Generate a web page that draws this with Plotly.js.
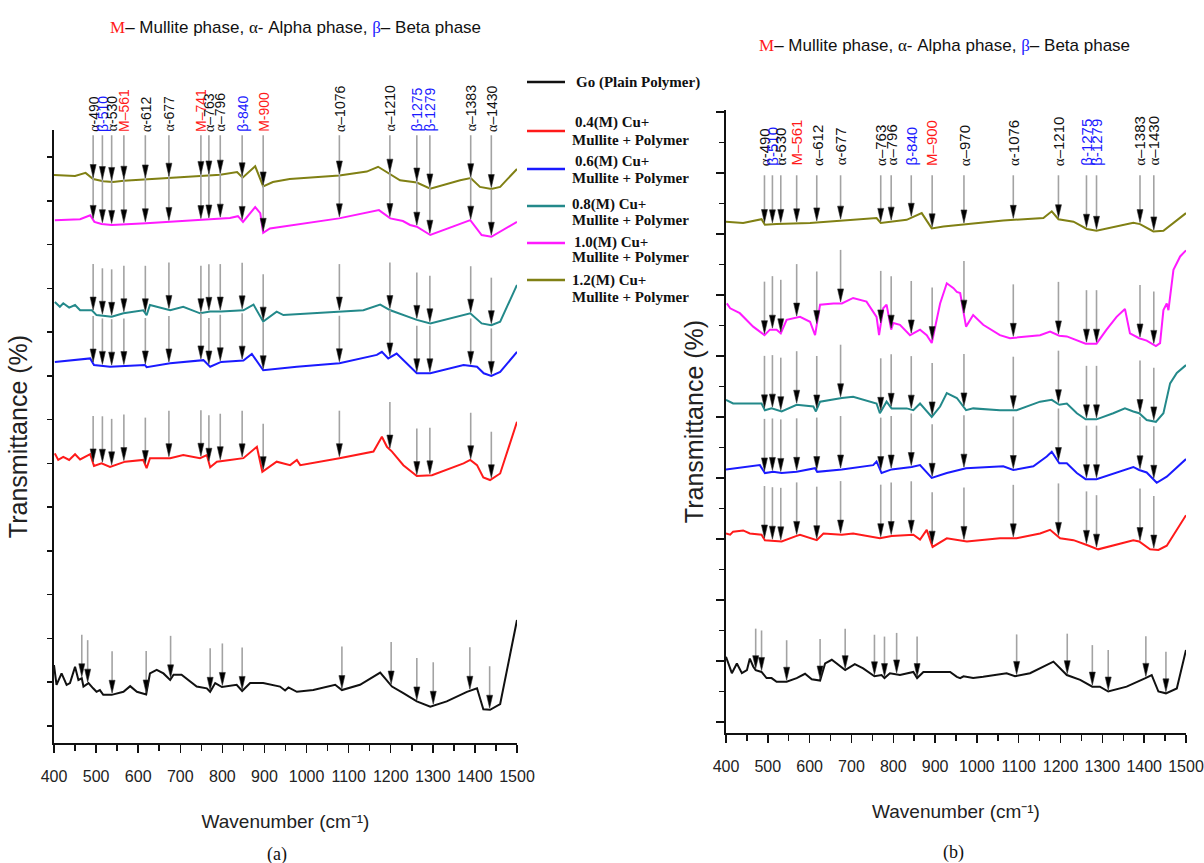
<!DOCTYPE html>
<html>
<head>
<meta charset="utf-8">
<script src="https://cdn.plot.ly/plotly-3.0.1.min.js"></script>
<style>html,body{margin:0;padding:0;background:#fff;}#chart{width:1204px;height:863px;}</style>
</head>
<body>
<div id="chart"></div>
<script>
// ---------------- DATA ----------------
// Panel (a) spectra: wavenumber (cm-1) and offset transmittance (arbitrary units)
const aBlackX = [400,406,418,430,438,450,458,466,470,482,493,501,509,517,537,565,581,597,619,628,644,660,676,684,703,723,739,763,771,783,799,834,847,866,897,937,949,957,977,1016,1068,1084,1127,1175,1203,1230,1262,1294,1333,1381,1405,1420,1436,1460,1500];
const aBlackY = [1.39,0.94,1.20,0.94,0.98,1.35,1.05,1.09,0.90,0.98,0.86,0.78,0.82,0.71,0.71,0.78,0.91,0.78,0.72,1.20,1.28,1.20,1.05,1.17,1.17,1.01,0.90,0.86,0.78,0.98,0.89,0.94,0.80,0.98,0.98,0.90,0.81,0.88,0.78,0.82,0.94,0.82,0.94,1.22,0.90,0.75,0.56,0.44,0.56,0.78,0.86,0.38,0.37,0.50,2.42];
const aRedX = [402,410,422,436,450,462,486,495,513,533,569,612,620,628,676,707,747,763,771,787,818,850,882,895,929,961,977,985,1078,1135,1159,1179,1191,1203,1230,1262,1298,1373,1389,1405,1420,1436,1460,1500];
const aRedY = [6.23,6.08,6.15,6.08,6.21,6.09,6.21,5.94,6.00,5.92,6.04,6.08,5.89,6.12,6.12,6.19,6.12,6.19,5.91,6.04,6.08,6.12,6.38,5.81,6.04,5.96,6.08,5.96,6.12,6.23,6.27,6.61,6.38,6.27,5.96,5.71,5.73,6.00,6.08,5.96,5.68,5.62,5.77,6.95];
const aBlueX = [402,486,495,533,616,620,676,755,771,797,850,870,897,977,1078,1167,1179,1194,1214,1262,1294,1373,1405,1421,1439,1460,1500];
const aBlueY = [8.32,8.40,8.25,8.21,8.25,8.20,8.29,8.36,8.21,8.32,8.35,8.50,8.13,8.21,8.29,8.48,8.55,8.40,8.51,8.06,8.06,8.25,8.21,8.06,8.00,8.09,8.55];
const aTealX = [402,414,422,436,450,462,490,501,537,565,612,620,628,676,707,747,771,797,850,874,897,929,945,1078,1135,1175,1199,1262,1294,1389,1416,1439,1460,1500];
const aTealY = [9.69,9.58,9.66,9.56,9.62,9.50,9.50,9.39,9.35,9.43,9.50,9.39,9.62,9.50,9.58,9.43,9.47,9.47,9.50,9.63,9.24,9.47,9.39,9.47,9.50,9.63,9.50,9.28,9.20,9.43,9.20,9.16,9.24,10.08];
const aMagX = [402,462,486,496,513,537,619,676,747,818,837,849,878,890,897,913,1077,1172,1199,1229,1246,1262,1294,1389,1416,1439,1500];
const aMagY = [11.56,11.58,11.67,11.52,11.47,11.45,11.49,11.52,11.56,11.61,11.65,11.52,11.86,11.72,11.27,11.37,11.60,11.79,11.60,11.54,11.45,11.41,11.22,11.56,11.22,11.18,11.52];
const aOliveX = [400,450,475,493,517,540,566,617,673,749,795,835,848,878,897,920,960,1078,1143,1170,1200,1222,1262,1294,1365,1390,1412,1439,1460,1500];
const aOliveY = [12.59,12.57,12.64,12.50,12.45,12.43,12.46,12.49,12.53,12.57,12.60,12.66,12.53,12.79,12.33,12.43,12.50,12.58,12.67,12.78,12.61,12.47,12.42,12.28,12.47,12.52,12.32,12.27,12.32,12.73];

// Panel (b) spectra
const bBlackX = [400,414,426,438,450,457,465,471,485,497,509,521,545,569,589,605,625,637,653,665,685,708,728,755,772,779,792,816,848,857,872,936,952,960,968,991,1015,1071,1091,1127,1183,1215,1247,1276,1294,1314,1358,1403,1418,1434,1452,1478,1500];
const bBlackY = [1.07,0.80,0.96,0.80,0.85,1.04,0.91,0.85,0.82,0.72,0.72,0.66,0.66,0.72,0.79,0.70,0.68,0.96,1.02,0.96,0.85,0.95,0.88,0.75,0.77,0.72,0.80,0.77,0.82,0.72,0.82,0.82,0.74,0.72,0.75,0.72,0.74,0.80,0.75,0.80,0.99,0.77,0.69,0.58,0.58,0.50,0.58,0.72,0.77,0.50,0.47,0.55,1.18];
const bRedX = [400,410,417,441,457,485,493,533,569,577,617,633,677,704,768,796,848,864,880,894,928,976,1055,1095,1151,1175,1199,1231,1263,1290,1374,1388,1414,1434,1454,1500];
const bRedY = [3.09,3.07,3.12,3.14,3.09,3.07,2.98,2.96,3.05,3.07,2.98,3.09,3.07,3.09,3.01,3.05,3.07,2.99,3.15,2.87,3.01,2.96,3.01,3.01,3.09,3.15,3.01,2.98,2.90,2.83,2.98,2.96,2.83,2.82,2.89,3.39];
const bBlueX = [400,481,493,513,533,569,613,618,677,752,760,772,796,844,864,892,928,974,1063,1087,1135,1167,1179,1197,1215,1239,1260,1286,1374,1388,1406,1430,1454,1500];
const bBlueY = [4.14,4.21,4.08,4.10,4.08,4.10,4.16,4.10,4.14,4.21,4.27,4.08,4.14,4.18,4.21,4.00,4.08,4.16,4.19,4.13,4.19,4.35,4.43,4.24,4.24,4.08,3.98,3.98,4.18,4.13,4.09,3.92,4.02,4.31];
const bTealX = [400,417,485,493,509,533,569,609,615,625,677,704,760,768,784,796,832,848,864,892,912,928,952,974,991,1055,1095,1151,1179,1197,1215,1239,1260,1286,1326,1354,1374,1388,1406,1428,1446,1462,1478,1500];
const bTealY = [5.28,5.22,5.22,5.11,5.14,5.09,5.20,5.17,5.09,5.25,5.31,5.33,5.22,5.06,5.25,5.14,5.14,5.11,5.22,5.00,5.17,5.39,5.31,5.11,5.14,5.11,5.11,5.25,5.28,5.20,5.22,5.06,4.96,4.96,5.06,5.14,5.09,5.06,4.95,4.92,5.06,5.55,5.72,5.85];
const bMagX = [402,410,433,465,492,505,521,531,545,577,601,613,625,657,677,704,736,760,766,776,784,795,800,816,840,864,880,892,912,928,944,952,960,974,991,1015,1055,1079,1151,1175,1197,1215,1260,1286,1310,1334,1354,1366,1388,1406,1428,1438,1446,1454,1458,1470,1486,1500];
const bMagY = [6.86,6.78,6.70,6.48,6.34,6.43,6.43,6.37,6.59,6.64,6.56,6.34,6.84,6.86,6.86,6.95,6.89,6.64,6.34,6.78,6.84,6.43,6.54,6.51,6.34,6.43,6.34,6.21,6.86,7.19,7.11,7.05,7.03,6.48,6.67,6.51,6.34,6.29,6.34,6.40,6.33,6.32,6.20,6.20,6.43,6.64,6.77,6.37,6.29,6.25,6.16,6.21,6.75,6.86,6.75,7.41,7.63,7.73];
const bOliveX = [400,441,485,493,521,601,760,770,832,868,892,920,1063,1159,1179,1195,1231,1263,1286,1374,1390,1422,1446,1500];
const bOliveY = [8.20,8.18,8.24,8.15,8.16,8.18,8.26,8.18,8.23,8.34,8.09,8.12,8.22,8.26,8.37,8.24,8.20,8.08,8.05,8.18,8.16,8.04,8.05,8.34];

// Series names (legend)
const seriesNames = ['Go (Plain Polymer)', '0.4(M) Cu+ Mullite + Polymer', '0.6(M) Cu+ Mullite + Polymer',
                     '0.8(M) Cu+ Mullite + Polymer', '1.0(M) Cu+ Mullite + Polymer', '1.2(M) Cu+ Mullite + Polymer'];
const legendLine1 = ['Go (Plain Polymer)', '0.4(M) Cu+', '0.6(M) Cu+', '0.8(M) Cu+', '1.0(M) Cu+', '1.2(M) Cu+'];
const legendLine2 = ['', 'Mullite + Polymer', 'Mullite + Polymer', 'Mullite + Polymer', 'Mullite + Polymer', 'Mullite + Polymer'];

// Peak assignments (arrow positions, cm-1) and labels
const peaksA = [493,515,537,566,617,673,749,768,795,847,897,1078,1198,1262,1293,1390,1439];
const peakLabelsA = ['α-490','β-510','α-530','M–561','α-612','α-677','M–741','α–763','α–796','β-840','M-900','α–1076','α–1210','β-1275','β-1279','α–1383','α–1430'];
const peaksABlack = [466,480,538,619,677,771,800,847,1084,1201,1262,1301,1388,1435];
const peaksB = [492,511,531,569,617,674,770,795,843,893,969,1087,1195,1262,1286,1390,1423];
const peakLabelsB = ['α-490','β-510','α-530','M–561','α–612','α-677','α–763','α–796','β-840','M–900','α–970','α-1076','α–1210','β-1275','β-1279','α–1383','α–1430'];
const peaksBBlack = [471,485,545,625,685,755,779,808,857,1095,1216,1276,1314,1404,1452];

const xTickVals = [400,500,600,700,800,900,1000,1100,1200,1300,1400,1500];

// ---------------- STYLE / LAYOUT ----------------
const W = 1204, H = 863;
const px = v => v / W;
const py = v => 1 - v / H;
const SANS = '"Liberation Sans", Arial, sans-serif';
const SERIF = '"Liberation Serif", "Times New Roman", serif';
const colors = ['#111111', '#ff1a1a', '#1a1aff', '#23898a', '#ff1aff', '#808014'];

const panelA = {xa: 'x', ya: 'y', unitPx: 43.77, xPerPx: 1100 / 463, labelY: 13.56, topLine: 13.5, len: 46, blackLen: 42, labelSize: 14};
const panelB = {xa: 'x2', ya: 'y2', unitPx: 61, xPerPx: 1100 / 460, labelY: 9.1, topLine: 8.96, len: 52, blackLen: 40, labelSize: 15};

const curvesA = [[aBlackX, aBlackY], [aRedX, aRedY], [aBlueX, aBlueY], [aTealX, aTealY], [aMagX, aMagY], [aOliveX, aOliveY]];
const curvesB = [[bBlackX, bBlackY], [bRedX, bRedY], [bBlueX, bBlueY], [bTealX, bTealY], [bMagX, bMagY], [bOliveX, bOliveY]];

function interp(xs, ys, x) {
  for (let i = 0; i < xs.length - 1; i++) {
    if (x >= xs[i] && x <= xs[i + 1]) {
      const t = (x - xs[i]) / (xs[i + 1] - xs[i]);
      return ys[i] + t * (ys[i + 1] - ys[i]);
    }
  }
  return ys[ys.length - 1];
}

const traces = [];
function buildPanel(curves, panel, peaks, peaksBlack) {
  curves.forEach((c, i) => {
    traces.push({
      type: 'scatter', mode: 'lines', x: c[0], y: c[1], name: seriesNames[i],
      xaxis: panel.xa, yaxis: panel.ya, showlegend: false,
      line: {color: colors[i], width: 2}, hoverinfo: 'x+y+name'
    });
  });
  const lx = [], ly = [], hx = [], hy = [];
  curves.forEach((c, i) => {
    const list = i === 0 ? peaksBlack : peaks;
    list.forEach(x => {
      const tip = interp(c[0], c[1], x) + 1.5 / panel.unitPx;
      const base = tip + 13 / panel.unitPx;
      const len = i === 0 ? panel.blackLen : panel.len;
      const top = (i === curves.length - 1) ? panel.topLine : tip + len / panel.unitPx;
      const hw = 3 * panel.xPerPx;
      lx.push(x, x, null); ly.push(tip + 4 / panel.unitPx, top, null);
      hx.push(x - hw, x + hw, x, x - hw, null); hy.push(base, base, tip, base, null);
    });
  });
  traces.push({type: 'scatter', mode: 'lines', x: lx, y: ly, xaxis: panel.xa, yaxis: panel.ya,
    showlegend: false, hoverinfo: 'skip', line: {color: '#a3a3a3', width: 1.6}});
  traces.push({type: 'scatter', mode: 'lines', x: hx, y: hy, xaxis: panel.xa, yaxis: panel.ya,
    showlegend: false, hoverinfo: 'skip', fill: 'toself', fillcolor: '#000', line: {color: '#333', width: 0.6}});
}
buildPanel(curvesA, panelA, peaksA, peaksABlack);
buildPanel(curvesB, panelB, peaksB, peaksBBlack);

const annotations = [];
function labelColor(t) { return t[0] === 'M' ? '#ff1a1a' : (t[0] === 'β' ? '#1a1aff' : '#111'); }
function labelText(t) {
  if (t[0] === 'α') return '<span style="font-family:Liberation Serif">α</span>' + t.slice(1);
  return t;
}
function addLabels(peaks, labels, panel) {
  peaks.forEach((x, i) => {
    annotations.push({
      x: x, y: panel.labelY, xref: panel.xa, yref: panel.ya, text: labelText(labels[i]),
      textangle: -90, xanchor: 'center', yanchor: 'bottom', showarrow: false, borderpad: 0,
      font: {family: SANS, size: panel.labelSize, color: labelColor(labels[i])}
    });
  });
}
addLabels(peaksA, peakLabelsA, panelA);
addLabels(peaksB, peakLabelsB, panelB);

// panel titles
const phaseTitle = '<span style="color:#ff1a1a;font-family:Liberation Serif">M</span>– Mullite phase, ' +
  '<span style="font-family:Liberation Serif">α</span>- Alpha phase, ' +
  '<span style="color:#1a1aff;font-family:Liberation Serif">β</span>– Beta phase';
annotations.push({x: px(295), y: py(28), xref: 'paper', yref: 'paper', text: phaseTitle, showarrow: false,
  xanchor: 'center', yanchor: 'middle', font: {family: SANS, size: 17, color: '#111'}});
annotations.push({x: px(945), y: py(46), xref: 'paper', yref: 'paper', text: phaseTitle, showarrow: false,
  xanchor: 'center', yanchor: 'middle', font: {family: SANS, size: 17, color: '#111'}});
// captions
annotations.push({x: px(277), y: py(854), xref: 'paper', yref: 'paper', text: '(a)', showarrow: false,
  xanchor: 'center', yanchor: 'middle', font: {family: SERIF, size: 18, color: '#111'}});
annotations.push({x: px(953), y: py(852), xref: 'paper', yref: 'paper', text: '(b)', showarrow: false,
  xanchor: 'center', yanchor: 'middle', font: {family: SERIF, size: 18, color: '#111'}});

// manual legend
const legLineY = [82, 131, 169, 206, 243, 280];
const legText1Y = [82, 123, 162, 204, 242, 280];
const legText2Y = [0, 140, 178, 220, 257, 297];
const legTextX = [574, 573, 573, 570, 572, 570];
const shapes = [];
colors.forEach((c, i) => {
  shapes.push({type: 'line', xref: 'paper', yref: 'paper', x0: px(527), x1: px(565), y0: py(legLineY[i]), y1: py(legLineY[i]),
    line: {color: c, width: 2.5}});
  annotations.push({x: px(legTextX[i]), y: py(legText1Y[i]), xref: 'paper', yref: 'paper', text: '<b>' + legendLine1[i] + '</b>',
    showarrow: false, xanchor: 'left', yanchor: 'middle', font: {family: SERIF, size: 15, color: '#111'}});
  if (legendLine2[i]) {
    annotations.push({x: px(570), y: py(legText2Y[i]), xref: 'paper', yref: 'paper', text: '<b>' + legendLine2[i] + '</b>',
      showarrow: false, xanchor: 'left', yanchor: 'middle', font: {family: SERIF, size: 15, color: '#111'}});
  }
});

function xAxis(domain, anchor) {
  return {
    domain: domain, range: [400, 1500], anchor: anchor, showgrid: false, zeroline: false,
    showline: true, linecolor: '#111', linewidth: 2, mirror: false,
    ticks: 'outside', ticklen: 8, tickwidth: 1.5, tickcolor: '#111',
    tickvals: xTickVals, ticklabelstandoff: 10,
    minor: {dtick: 50, tick0: 0, ticks: 'outside', ticklen: 6, tickwidth: 1.5, tickcolor: '#111'},
    tickfont: {family: SANS, size: 16, color: '#222'},
    title: {text: 'Wavenumber (cm⁻¹)', font: {family: SANS, size: 19, color: '#222'}, standoff: 30}
  };
}
function yAxis(domain, anchor, range, minor, standoff) {
  const ax = {
    domain: domain, range: range, anchor: anchor, showgrid: false, zeroline: false,
    showline: true, linecolor: '#111', linewidth: 2, showticklabels: false,
    ticks: 'outside', ticklen: minor ? 8 : 5, tickwidth: 1.5, tickcolor: '#111', dtick: 1, tick0: 0,
    title: {text: 'Transmittance (%)', font: {family: SANS, size: 25, color: '#222'}, standoff: standoff}
  };
  if (minor) ax.minor = {dtick: 0.5, tick0: 0, ticks: 'outside', ticklen: 5, tickwidth: 1.5, tickcolor: '#111'};
  return ax;
}

const layout = {
  width: W, height: H, margin: {l: 0, r: 0, t: 0, b: 0}, paper_bgcolor: '#fff', plot_bgcolor: 'rgba(0,0,0,0)',
  showlegend: false,
  xaxis: xAxis([px(54), px(517)], 'y'),
  yaxis: yAxis([py(743), py(130)], 'x', [-0.39, 13.62], false, 12),
  xaxis2: xAxis([px(726), px(1186)], 'y2'),
  yaxis2: yAxis([py(733), py(110)], 'x2', [-0.18, 10.03], true, 5),
  annotations: annotations, shapes: shapes
};

Plotly.newPlot('chart', traces, layout, {displayModeBar: false, staticPlot: true});
</script>
</body>
</html>
